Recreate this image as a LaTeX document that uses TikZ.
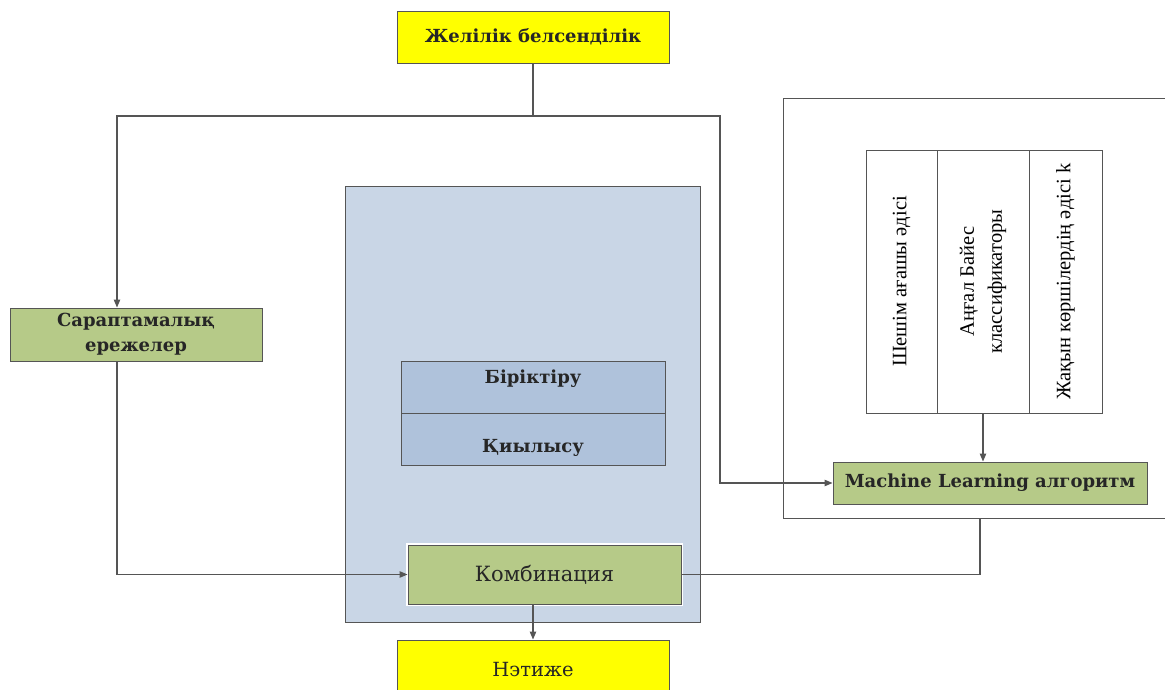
\documentclass[tikz,border=0pt]{standalone}
\usepackage{fontspec}
\setmainfont{DejaVu Serif}
\newfontfamily\colfont{Liberation Serif}
\usetikzlibrary{arrows.meta}
\definecolor{boxyellow}{HTML}{FFFF00}
\definecolor{boxgreen}{HTML}{B6CA88}
\definecolor{panelblue}{HTML}{C9D6E6}
\definecolor{cellblue}{HTML}{AFC2DB}
\definecolor{edge}{HTML}{555555}
\tikzset{
  box/.style={draw=edge, line width=1pt, inner sep=0pt, align=center,
    font=\fontsize{18}{25}\selectfont\bfseries, text=black!85},
  yellowbox/.style={box, fill=boxyellow},
  greenbox/.style={box, fill=boxgreen},
  cell/.style={box, fill=cellblue},
  col/.style={draw=edge, line width=1pt, inner sep=0pt, align=center,
    font=\colfont\fontsize{20.5}{28}\selectfont, rotate=90},
  wire/.style={draw=edge, line width=1.1pt},
  >={Triangle[length=8pt,width=6.5pt]}
}

\begin{document}
\begin{tikzpicture}[x=1pt, y=-1pt]
    \useasboundingbox (0,0) rectangle (1165,689);
    % frames
    \node [draw=edge, line width=1pt, fill=panelblue, minimum width=355pt, minimum height=436pt] (panel) at (522.5,404) {};
    \node [draw=edge, line width=1pt, minimum width=420pt, minimum height=420pt] (frame) at (993,308) {};
    % boxes
    \node [yellowbox, minimum width=272pt, minimum height=52pt] (net) at (533,37) {Желілік белсенділік};
    \node [greenbox, minimum width=252pt, minimum height=53pt] (rules) at (136,334.5) {Сараптамалық\\ережелер};
    \node [cell, minimum width=264pt, minimum height=52pt, text depth=20pt] (union) at (533,387) {Біріктіру};
    \node [cell, minimum width=264pt, minimum height=52pt, text height=30pt] (inter) at (533,439) {Қиылысу};
    \node [greenbox, minimum width=273pt, minimum height=59pt, font=\fontsize{21}{24}\selectfont,
      preaction={draw=white, line width=4pt}] (comb) at (544.5,574.5) {Комбинация};
    \node [yellowbox, font=\fontsize{19.5}{24}\selectfont, minimum width=272pt, minimum height=60pt] (res) at (533,670) {Нэтиже};
    \node [greenbox, minimum width=314pt, minimum height=42pt] (ml) at (990,483) {Machine Learning алгоритм};
    % columns
    \node [col, minimum width=263pt, minimum height=71pt] (tree) at (901.5,281.5) {Шешім ағашы әдісі};
    \node [col, minimum width=263pt, minimum height=92pt] (bayes) at (983,281.5) {Аңғал Байес\\классификаторы};
    \node [col, minimum width=263pt, minimum height=73pt] (knn) at (1065.5,281.5) {Жақын көршілердің әдісі k};
    % connectors
    \coordinate (split) at (533,116);
    \coordinate (lt) at (117,116);
    \coordinate (rt) at (720,116);
    \coordinate (fb) at (980,518);
    \draw [wire] (net.south) -- (split);
    \draw [wire, ->] (split) -- (lt) -- (lt |- rules.north);
    \draw [wire, ->] (split) -- (rt) |- (ml.west);
    \draw [wire, ->] (lt |- rules.south) |- (comb.west);
    \draw [wire, ->] (bayes.west) -- (bayes.west |- ml.north);
    \draw [wire] (comb.east) -| (fb);
    \draw [wire, ->] (comb.south -| res.north) -- (res.north);
\end{tikzpicture}
\end{document}
